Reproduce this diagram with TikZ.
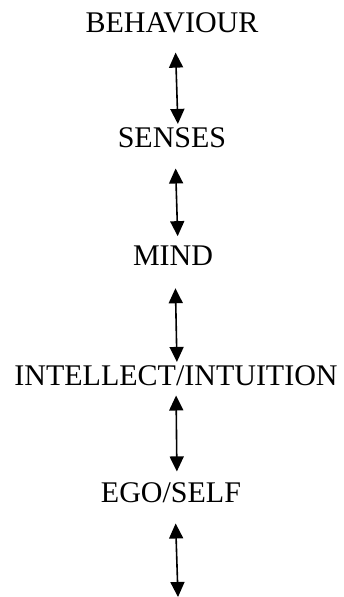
\documentclass[tikz,border=0pt]{standalone}
\usepackage{fontspec}
\setmainfont{Liberation Serif}
\usetikzlibrary{arrows.meta}
\tikzset{
  lnode/.style={anchor=base,inner sep=0pt,font=\fontsize{30}{31}\selectfont},
  be/.style={{Triangle[length=15pt,width=14pt]}-{Triangle[length=15pt,width=14pt]},line width=1.6pt}
}
\begin{document}
\begin{tikzpicture}[x=1pt,y=1pt]
\useasboundingbox (0,0) rectangle (343,597);
\node[lnode] (behav) at (172,564) {BEHAVIOUR};
\node[lnode] (senses) at (172,449) {SENSES};
\node[lnode] (mind) at (173,331) {MIND};
\node[lnode] (intel) at (176,211) {INTELLECT/INTUITION};
\node[lnode] (ego) at (171,94) {EGO/SELF};
\coordinate (foot) at (178,0);
\draw[be, shorten <=19pt, shorten >=4pt] ([xshift=3pt]behav.south) -- ([xshift=6pt]senses.north);
\draw[be, shorten <=20pt, shorten >=10pt] ([xshift=3pt]senses.south) -- ([xshift=5pt]mind.north);
\draw[be, shorten <=22pt, shorten >=4pt] ([xshift=2pt]mind.south) -- ([xshift=1pt]intel.north);
\draw[be, shorten <=9pt, shorten >=11.5pt] (intel.south) -- ([xshift=6pt]ego.north);
\draw[be, shorten <=20pt] ([xshift=4pt]ego.south) -- (foot);
\end{tikzpicture}
\end{document}
